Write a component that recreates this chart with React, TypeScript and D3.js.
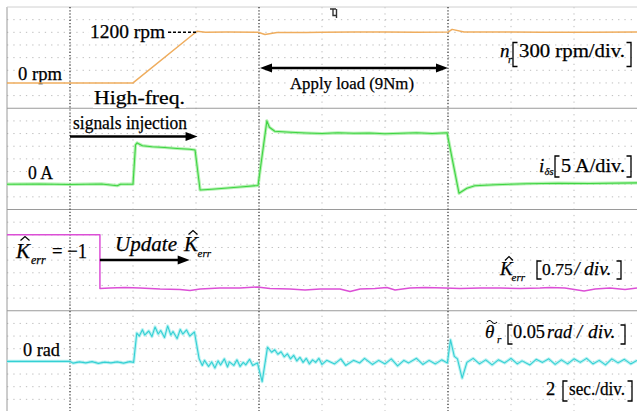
import React, { useEffect, useRef } from 'react';
import * as d3 from 'd3';

const W = 637, H = 411;

// time axis: 2 sec/div, 10 divisions
const timeDomain = [0, 20];
const gridTimes = d3.range(0, 21, 2);
const eventTimes = [2, 8, 14];

// n_r [rpm]
const speedRpm = [
  [0, 0], [4.0, 0], [6.03, 1225], [6.3, 1200], [7.0, 1205], [7.97, 1200], [8.19, 1150], [8.57, 1195],
  [9.5, 1195], [10, 1200], [11, 1205], [12, 1205], [13, 1200], [14.0, 1205], [14.13, 1270],
  [14.51, 1205], [16, 1205], [17, 1200], [18.5, 1200], [20, 1205],
];

// i_ds [A]
const currentA = [
  [0, 0], [1, 0.1], [2, -0.1], [3, 0.1], [3.5, -0.6], [3.6, 0], [4.0, 0],
  [4.08, 15.5], [4.13, 16.3], [4.3, 15.2], [4.6, 14.8], [5.0, 14.5], [5.4, 14.1], [5.8, 13.8], [5.97, 13.5],
  [6.13, -2.3], [6.5, -2.0], [7.0, -1.5], [7.5, -1.0], [7.97, -0.5],
  [8.25, 25.0], [8.33, 22.5], [8.5, 20.9], [9.0, 20.5], [9.5, 20.2], [10, 20.0], [10.5, 20.3], [11, 20.1],
  [11.5, 20.2], [12, 19.9], [12.5, 20.1], [13, 20.3], [13.5, 20.0], [13.97, 20.3],
  [14.35, -3.6], [14.45, -2.8], [14.6, -1.6], [14.85, -0.6], [15.5, -0.2], [16.5, 0.2], [17.5, 0.4],
  [18.5, 0.3], [20, 0.5],
];

// K_err estimate
const kErr = [
  [0, -1], [2.95, -1], [2.95, -4.18], [3.27, -4.15], [3.75, -4.12], [4.22, -4.15], [4.86, -4.21],
  [5.49, -4.24], [5.81, -4.30], [6.13, -4.21], [6.76, -4.15], [7.4, -4.15], [7.94, -4.09], [8.35, -4.18],
  [8.98, -4.21], [9.46, -4.27], [9.94, -4.21], [10.57, -4.21], [10.89, -4.36], [11.21, -4.21],
  [11.68, -4.18], [12.06, -4.12], [12.32, -4.27], [12.79, -4.15], [13.27, -4.12], [13.9, -4.15],
  [14.38, -4.18], [15.02, -4.15], [15.65, -4.15], [16.29, -4.18], [16.92, -4.15], [17.24, -4.12],
  [17.71, -4.15], [18.32, -4.33], [18.67, -4.21], [19.14, -4.15], [19.62, -4.24], [20, -4.15],
];

// theta_r error [rad]
const thetaRad = [
  [0, 0], [2, 0],
  [2.1, -0.007], [2.3, -0.002], [2.5, -0.006], [2.7, -0.001], [2.9, -0.008], [3.1, -0.003], [3.3, -0.006],
  [3.5, -0.002], [3.7, -0.007], [3.9, -0.001], [4.02, -0.004],
  [4.12, 0.112], [4.2, 0.1], [4.3, 0.125], [4.37, 0.104], [4.5, 0.12], [4.6, 0.098], [4.7, 0.136],
  [4.8, 0.108], [4.88, 0.122], [5.0, 0.094], [5.1, 0.14], [5.2, 0.104], [5.27, 0.118], [5.4, 0.09],
  [5.5, 0.126], [5.58, 0.108], [5.7, 0.124], [5.8, 0.1], [5.95, 0.116],
  [6.1, 0.01], [6.2, -0.016], [6.27, 0.004], [6.4, -0.02], [6.5, -0.002], [6.6, -0.026], [6.7, 0.002],
  [6.78, -0.014], [6.9, 0.01], [7.0, -0.022], [7.06, -0.002], [7.2, -0.016], [7.3, 0.006], [7.4, -0.02],
  [7.5, -0.004], [7.58, -0.014], [7.7, 0.008], [7.8, -0.016], [7.95, -0.006],
  [8.1, -0.08], [8.27, 0.056], [8.4, 0.036], [8.5, 0.046], [8.6, 0.028], [8.7, 0.038], [8.8, 0.018],
  [8.9, 0.03], [9.0, 0.01], [9.1, 0.024], [9.2, 0.002], [9.3, 0.016], [9.4, -0.004], [9.5, 0.012],
  [9.6, -0.01], [9.7, 0.006], [9.8, -0.004], [9.9, 0.012], [10.0, -0.012], [10.15, 0.004], [10.4, -0.01],
  [10.6, 0.01], [10.75, -0.016], [11.0, 0.004], [11.2, -0.006], [11.35, 0.012], [11.6, -0.012],
  [11.8, 0.004], [12.0, -0.01], [12.2, 0.01], [12.4, -0.018], [12.6, 0.004], [12.75, -0.006],
  [13.0, 0.012], [13.2, -0.012], [13.4, 0.004], [13.6, -0.01], [13.8, 0.006], [13.98, -0.006],
  [14.08, 0.085], [14.2, 0.02], [14.3, 0.01], [14.45, -0.066], [14.6, -0.004], [14.8, 0.012],
  [15.0, -0.01], [15.2, 0.006], [15.4, -0.014], [15.6, 0.006], [15.8, -0.006], [16.0, 0.012],
  [16.2, -0.01], [16.35, 0.002], [16.6, -0.014], [16.8, 0.008], [17.0, -0.004], [17.2, 0.01],
  [17.4, -0.012], [17.6, 0.006], [17.8, -0.01], [18.0, 0.01], [18.2, -0.004], [18.4, 0.012],
  [18.6, -0.01], [18.8, 0.004], [19.0, -0.014], [19.2, 0.01], [19.4, -0.006], [19.6, 0.008],
  [19.8, -0.01], [20, 0.004],
];

const FONT = 'Liberation Serif, Times New Roman, serif';

export default function App() {
  const ref = useRef<SVGSVGElement>(null);

  useEffect(() => {
    const svg = d3.select(ref.current);
    svg.selectAll('*').remove();

    const left = 7, right = 637, top = 7, bottom = 412;
    const ph = (bottom - top) / 4;
    const x = d3.scaleLinear().domain(timeDomain).range([left, right]);

    const panels = [
      { data: speedRpm, domain: [-600, 1800], color: '#efad5e', band: null, w: 1.5 },
      { data: currentA, domain: [-10, 30], color: '#3fd443', band: '#9bec98', w: 1.1 },
      { data: kErr, domain: [-5.5, 0.5], color: '#dc4fd6', band: null, w: 1.5 },
      { data: thetaRad, domain: [-0.2, 0.2], color: '#35d0d4', band: '#a3eeee', w: 1.1 },
    ].map((p, i) => ({
      ...p,
      y: d3.scaleLinear().domain(p.domain).range([top + ph * (i + 1), top + ph * i]),
      y0: top + ph * i,
    }));

    // grid
    const grid = svg.append('g');
    panels.forEach((p) => {
      d3.range(1, 8).forEach((k) => {
        grid.append('line')
          .attr('x1', left).attr('x2', right)
          .attr('y1', p.y0 + (ph / 8) * k).attr('y2', p.y0 + (ph / 8) * k)
          .attr('stroke', '#bdbdbd').attr('stroke-width', 1).attr('stroke-dasharray', '1.3,5');
      });
    });
    gridTimes.slice(1, -1).forEach((t) => {
      grid.append('line')
        .attr('x1', x(t)).attr('x2', x(t)).attr('y1', top).attr('y2', bottom)
        .attr('stroke', '#bdbdbd').attr('stroke-dasharray', '1.3,5');
    });
    // borders
    grid.append('line').attr('x1', left).attr('x2', left).attr('y1', top).attr('y2', bottom)
      .attr('stroke', '#9a9a9a');
    d3.range(0, 4).forEach((i) => {
      grid.append('line').attr('x1', left).attr('x2', right)
        .attr('y1', top + ph * i).attr('y2', top + ph * i)
        .attr('stroke', i === 0 ? '#d0d0d0' : '#9a9a9a');
    });

    const txt = (s: string, x0: number, y0: number, size: number, opt: any = {}) => {
      const t = svg.append('text').attr('x', x0).attr('y', y0)
        .attr('font-family', FONT).attr('font-size', size).attr('fill', '#000')
        .attr('stroke', '#000').attr('stroke-width', 0.25).text(s);
      if (opt.italic) t.attr('font-style', 'italic');
      if (opt.w) t.attr('textLength', opt.w).attr('lengthAdjust', 'spacingAndGlyphs');
      if (opt.bg) {
        const b = (t.node() as SVGTextElement).getBBox();
        svg.insert('rect', () => t.node())
          .attr('x', b.x - 1).attr('y', b.y).attr('width', b.width + 2).attr('height', b.height)
          .attr('fill', '#fff');
      }
      return t;
    };

    // boxed labels
    txt('1200 rpm', 90, 38, 18, { w: 75, bg: true });
    txt('0 rpm', 18, 80, 18, { w: 44, bg: true });
    txt('High-freq.', 94, 104, 18.5, { w: 91, bg: true });
    txt('signals injection', 73, 129, 18, { w: 114, bg: true });
    txt('0 A', 28, 179, 18, { w: 25, bg: true });
    txt('Apply load (9Nm)', 290, 89, 17.5, { w: 124, bg: true });
    txt('0 rad', 23, 356, 18, { w: 37, bg: true });

    // event markers
    eventTimes.forEach((t) => {
      svg.append('line').attr('x1', x(t)).attr('x2', x(t)).attr('y1', top).attr('y2', bottom)
        .attr('stroke', '#222').attr('stroke-width', 1.1).attr('stroke-dasharray', '1.2,2');
    });

    const bracket = (bx: number, y1: number, y2: number, side: number) => {
      svg.append('path')
        .attr('d', `M${bx + side * 4.5},${y1} H${bx} V${y2} H${bx + side * 4.5}`)
        .attr('fill', 'none').attr('stroke', '#000').attr('stroke-width', 1.3);
    };
    const hat = (cx: number, cy: number, w: number) => {
      svg.append('path')
        .attr('d', `M${cx - w / 2},${cy + 4} L${cx},${cy} L${cx + w / 2},${cy + 4}`)
        .attr('fill', 'none').attr('stroke', '#000').attr('stroke-width', 1.2);
    };

    // right-hand scale labels
    txt('n', 500, 57, 19, { italic: true });
    txt('r', 508, 63, 11, { italic: true });
    bracket(513, 42.5, 66.5, 1);
    txt('300 rpm/div.', 519, 57, 18.5, { w: 106 });
    bracket(631, 42.5, 66.5, -1);

    txt('i', 539, 172, 19, { italic: true });
    txt('δs', 544.5, 175, 10.5, { italic: true });
    bracket(555, 156, 177, 1);
    txt('5 A/div.', 561, 172, 18.5, { w: 64 });
    bracket(631, 156, 177, -1);

    txt('K', 16, 258, 21, { italic: true });
    hat(25, 236.5, 9);
    txt('err', 31, 264, 12, { italic: true });
    txt('= −1', 52, 258, 21, { w: 35 });

    txt('Update', 115, 251, 21, { italic: true, w: 62 });
    txt('K', 184, 251, 21, { italic: true });
    hat(193, 230.5, 9);
    txt('err', 197.5, 257, 11, { italic: true });

    txt('K', 500, 275, 19, { italic: true });
    hat(509, 256.5, 8);
    txt('err', 511.5, 281, 11, { italic: true });
    bracket(537, 261, 279, 1);
    txt('0.75', 542, 275, 17.5);
    txt('/', 574.5, 275, 18, { italic: true });
    txt('div.', 584, 275, 19.5, { italic: true });
    bracket(621, 261, 279, -1);

    txt('θ', 485, 338, 19, { italic: true });
    svg.append('path').attr('d', 'M487,322 q2.5,-3 5,0 t5,0')
      .attr('fill', 'none').attr('stroke', '#000').attr('stroke-width', 1.1);
    txt('r', 497, 343, 11, { italic: true });
    bracket(508, 325, 344, 1);
    txt('0.05', 513, 338, 18.5, { w: 32 });
    txt('rad', 547, 338, 19, { italic: true, w: 25 });
    txt('/', 577, 338, 18, { italic: true });
    txt('div.', 588, 338, 19.5, { italic: true });
    bracket(625, 325, 344, -1);

    txt('2', 546, 395, 18.5);
    bracket(563, 381, 401, 1);
    txt('sec./div.', 569, 395, 18.5, { w: 56 });
    bracket(632, 381, 401, -1);

    // traces
    panels.forEach((p) => {
      const line = d3.line<number[]>().x((d) => x(d[0])).y((d) => p.y(d[1]));
      if (p.band) {
        svg.append('path').attr('d', line(p.data as number[][]))
          .attr('fill', 'none').attr('stroke', p.band).attr('stroke-width', 3.2)
          .attr('stroke-linejoin', 'round').attr('opacity', 0.75);
      }
      svg.append('path').attr('d', line(p.data as number[][]))
        .attr('fill', 'none').attr('stroke', p.color).attr('stroke-width', p.w)
        .attr('stroke-linejoin', 'round');
    });

    // dashed leader at 1200 rpm
    const ySpeed = panels[0].y;
    svg.append('line').attr('x1', 168).attr('x2', x(6.0)).attr('y1', ySpeed(1200)).attr('y2', ySpeed(1200))
      .attr('stroke', '#000').attr('stroke-width', 1.6).attr('stroke-dasharray', '3,2');

    // arrows
    const arrow = (x1: number, x2: number, yy: number, both: boolean) => {
      const hl = 12, hw = 4.5;
      const a = both ? x1 + hl : x1;
      svg.append('line').attr('x1', a).attr('x2', x2 - hl + 1).attr('y1', yy).attr('y2', yy)
        .attr('stroke', '#000').attr('stroke-width', 2.6);
      svg.append('path').attr('d', `M${x2},${yy} L${x2 - hl},${yy - hw} L${x2 - hl},${yy + hw} Z`).attr('fill', '#000');
      if (both) {
        svg.append('path').attr('d', `M${x1},${yy} L${x1 + hl},${yy - hw} L${x1 + hl},${yy + hw} Z`).attr('fill', '#000');
      }
    };
    arrow(x(2), x(6.05), 136.5, false);
    arrow(x(8) + 1, x(14), 68, true);
    arrow(x(2.95), x(5.8), 260, false);

    // trigger marker
    svg.append('path').attr('d', 'M330,9 H336 M333,9 V15.5 H336.5 M336.5,9 V18')
      .attr('fill', 'none').attr('stroke', '#333').attr('stroke-width', 1.4);
  }, []);

  return (
    <svg ref={ref} width={W} height={H}
      style={{ position: 'absolute', left: 0, top: 0, background: '#fff', display: 'block' }} />
  );
}
